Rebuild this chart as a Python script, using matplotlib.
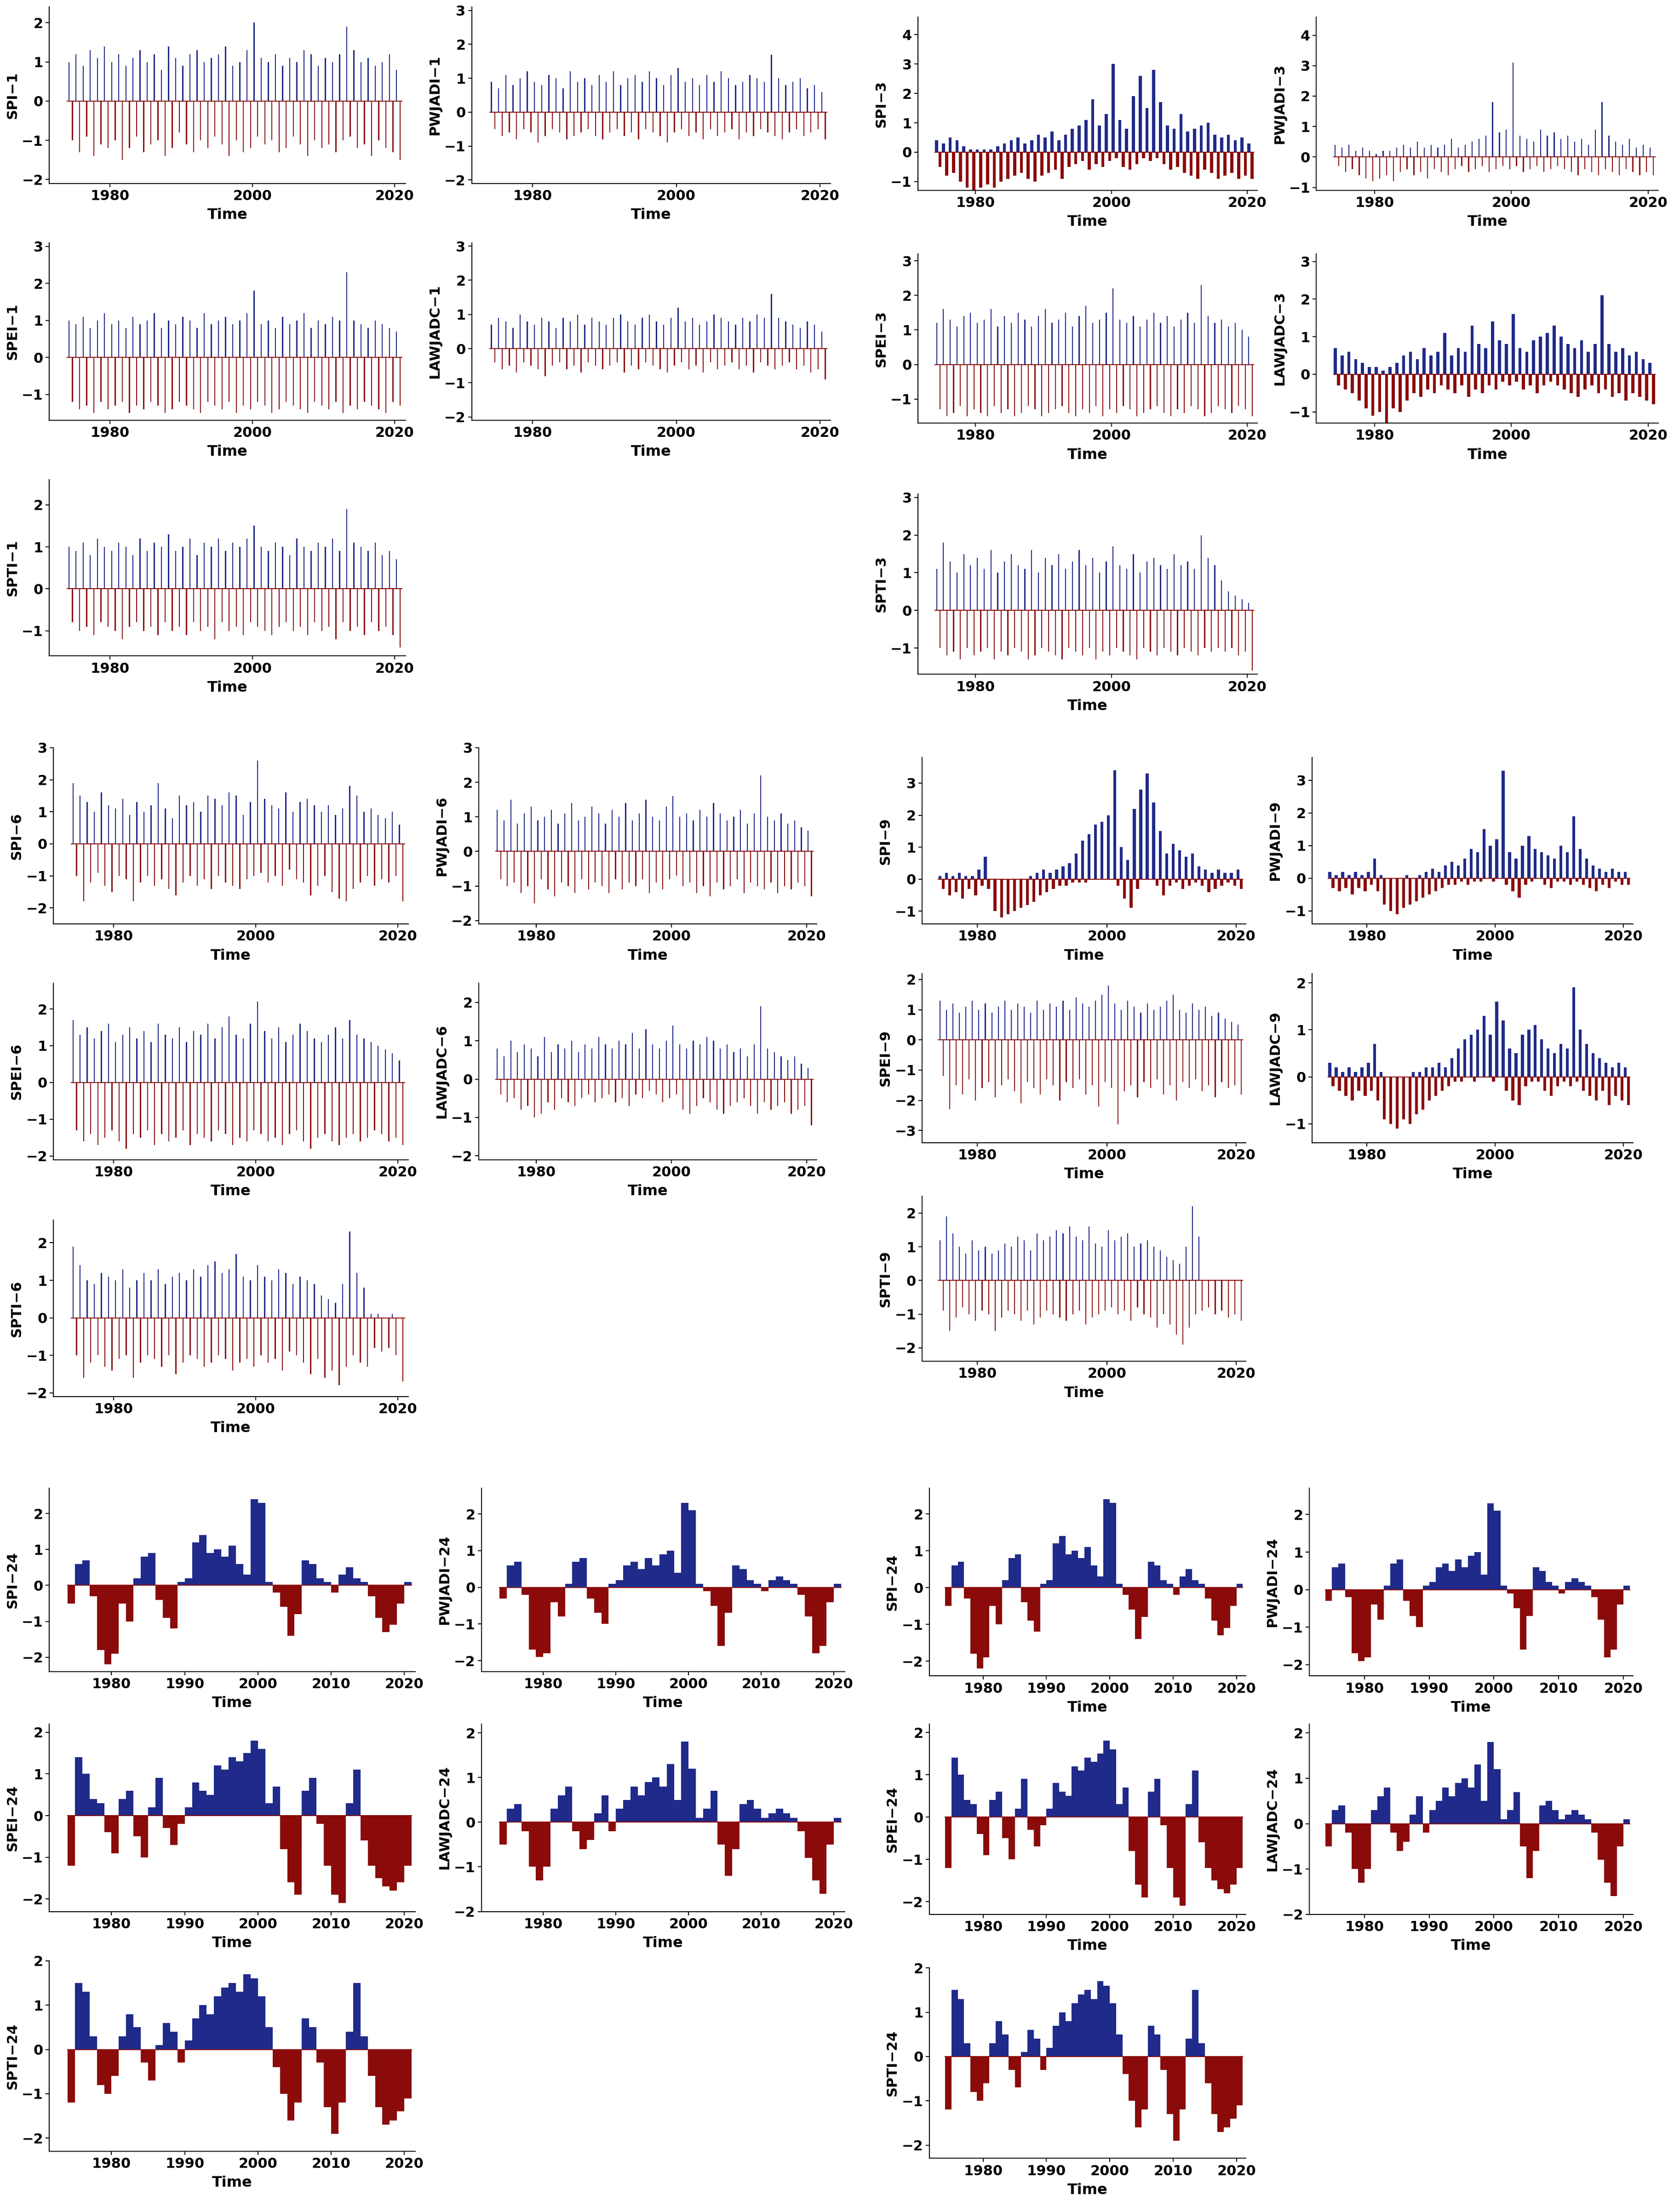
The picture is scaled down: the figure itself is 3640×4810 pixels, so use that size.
import numpy as np
import matplotlib.pyplot as plt
from matplotlib.ticker import MultipleLocator

# yearly high / low values of the short-scale indices, 1974..2020
spi1_hi = [1.0,1.2,0.9,1.3,1.1,1.4,1.0,1.2,0.9,1.1,1.3,1.0,1.2,0.8,1.4,1.1,0.9,1.2,1.3,1.0,1.1,1.2,1.4,0.9,1.0,1.3,2.0,1.1,1.0,1.2,0.9,1.1,1.0,1.3,1.2,0.9,1.1,1.0,1.2,1.9,1.3,1.0,1.1,0.9,1.0,1.2,0.8]
spi1_lo = [-1.0,-1.3,-0.9,-1.4,-1.1,-1.2,-1.0,-1.5,-1.2,-0.9,-1.3,-1.1,-1.0,-1.4,-1.2,-0.8,-1.1,-1.3,-1.0,-1.2,-0.9,-1.1,-1.4,-1.0,-1.3,-1.2,-0.9,-1.1,-1.0,-1.3,-1.2,-0.9,-1.1,-1.4,-1.0,-1.2,-1.1,-1.3,-1.0,-0.9,-1.2,-1.1,-1.4,-1.0,-1.2,-1.3,-1.5]
pwj1_hi = [0.9,0.7,1.1,0.8,1.0,1.2,0.9,0.8,1.1,1.0,0.7,1.2,0.9,1.0,0.8,1.1,0.9,1.2,0.8,1.0,1.1,0.9,1.2,1.0,0.8,1.1,1.3,0.9,1.0,0.8,1.1,0.9,1.2,1.0,0.8,0.9,1.1,1.0,0.9,1.7,1.0,0.8,0.9,1.0,0.7,0.8,0.6]
pwj1_lo = [-0.5,-0.7,-0.6,-0.8,-0.5,-0.6,-0.9,-0.7,-0.5,-0.6,-0.8,-0.7,-0.6,-0.5,-0.7,-0.8,-0.6,-0.5,-0.7,-0.6,-0.8,-0.5,-0.6,-0.7,-0.9,-0.6,-0.5,-0.7,-0.6,-0.8,-0.5,-0.7,-0.6,-0.5,-0.8,-0.6,-0.7,-0.5,-0.6,-0.7,-0.8,-0.6,-0.5,-0.7,-0.6,-0.5,-0.8]
spei1_hi = [1.0,0.9,1.1,0.8,1.0,1.2,0.9,1.0,0.8,1.1,0.9,1.0,1.2,0.8,1.0,0.9,1.1,1.0,0.8,1.2,0.9,1.0,1.1,0.9,1.0,1.2,1.8,0.9,1.0,0.8,1.1,0.9,1.0,1.2,0.8,1.0,0.9,1.1,1.0,2.3,1.0,0.9,0.8,1.0,0.9,0.8,0.7]
spei1_lo = [-1.2,-1.4,-1.3,-1.5,-1.2,-1.4,-1.3,-1.2,-1.5,-1.3,-1.4,-1.2,-1.3,-1.5,-1.4,-1.2,-1.3,-1.4,-1.5,-1.2,-1.3,-1.4,-1.2,-1.5,-1.3,-1.4,-1.2,-1.3,-1.5,-1.4,-1.2,-1.3,-1.4,-1.5,-1.2,-1.3,-1.4,-1.2,-1.5,-1.3,-1.4,-1.2,-1.3,-1.4,-1.5,-1.2,-1.3]
law1_hi = [0.7,0.9,0.8,0.6,1.0,0.8,0.7,0.9,0.8,0.6,0.9,0.8,1.0,0.7,0.9,0.8,0.7,0.9,1.0,0.8,0.7,0.9,1.0,0.8,0.7,0.9,1.2,0.8,0.9,0.7,0.8,1.0,0.9,0.8,0.7,0.9,0.8,1.0,0.9,1.6,0.9,0.8,0.7,0.6,0.8,0.7,0.5]
law1_lo = [-0.4,-0.6,-0.5,-0.7,-0.4,-0.5,-0.6,-0.8,-0.5,-0.4,-0.6,-0.5,-0.7,-0.4,-0.5,-0.6,-0.5,-0.4,-0.7,-0.5,-0.6,-0.4,-0.5,-0.6,-0.7,-0.5,-0.4,-0.6,-0.5,-0.7,-0.4,-0.6,-0.5,-0.4,-0.6,-0.5,-0.7,-0.4,-0.5,-0.6,-0.5,-0.4,-0.6,-0.5,-0.7,-0.6,-0.9]
spti1_hi = [1.0,0.9,1.1,0.8,1.2,1.0,0.9,1.1,1.0,0.8,1.2,0.9,1.1,1.0,1.3,0.9,1.0,1.2,0.8,1.1,1.0,1.2,0.9,1.1,1.0,1.2,1.5,1.0,0.9,1.1,1.0,0.8,1.2,1.0,0.9,1.1,1.0,1.2,0.9,1.9,1.1,1.0,0.9,1.1,0.8,0.9,0.7]
spti1_lo = [-0.8,-1.0,-0.9,-1.1,-0.8,-0.9,-1.0,-1.2,-0.9,-0.8,-1.0,-0.9,-1.1,-0.8,-1.0,-0.9,-1.1,-0.8,-1.0,-0.9,-1.2,-0.8,-1.0,-0.9,-1.1,-0.8,-0.9,-1.0,-1.1,-0.9,-0.8,-1.0,-0.9,-1.1,-0.8,-1.0,-0.9,-1.2,-0.8,-1.0,-0.9,-1.1,-0.8,-1.0,-0.9,-1.1,-1.4]

spi3_hi = [0.4,0.3,0.5,0.4,0.2,0.1,0.1,0.1,0.1,0.2,0.3,0.4,0.5,0.3,0.4,0.6,0.5,0.7,0.4,0.6,0.8,0.9,1.1,1.8,0.9,1.3,3.0,1.1,0.8,1.9,2.6,1.5,2.8,1.7,0.9,0.8,1.3,0.7,0.8,0.9,1.0,0.6,0.5,0.6,0.4,0.5,0.3]
spi3_lo = [-0.5,-0.8,-0.7,-1.0,-1.2,-1.3,-1.2,-1.1,-1.2,-1.0,-0.9,-0.8,-0.7,-0.9,-1.0,-0.8,-0.7,-0.6,-0.9,-0.5,-0.4,-0.3,-0.6,-0.4,-0.5,-0.3,-0.2,-0.5,-0.6,-0.4,-0.2,-0.3,-0.2,-0.4,-0.6,-0.5,-0.7,-0.8,-0.9,-0.6,-0.7,-0.9,-0.8,-0.7,-0.9,-0.8,-0.9]
pwj3_hi = [0.4,0.3,0.4,0.2,0.3,0.2,0.1,0.2,0.2,0.3,0.4,0.3,0.5,0.3,0.4,0.3,0.4,0.6,0.3,0.4,0.5,0.6,0.7,1.8,0.8,0.9,3.1,0.7,0.6,0.5,0.9,0.7,0.8,0.6,0.7,0.5,0.6,0.4,0.9,1.8,0.7,0.5,0.4,0.6,0.3,0.4,0.3]
pwj3_lo = [-0.3,-0.5,-0.4,-0.6,-0.7,-0.8,-0.7,-0.6,-0.8,-0.5,-0.4,-0.6,-0.5,-0.7,-0.4,-0.5,-0.6,-0.4,-0.3,-0.5,-0.4,-0.3,-0.5,-0.4,-0.3,-0.4,-0.3,-0.5,-0.4,-0.3,-0.5,-0.4,-0.3,-0.4,-0.5,-0.6,-0.4,-0.5,-0.6,-0.4,-0.5,-0.6,-0.4,-0.5,-0.6,-0.5,-0.6]
spei3_hi = [1.2,1.6,1.3,1.1,1.4,1.5,1.2,1.3,1.6,1.1,1.4,1.2,1.5,1.3,1.1,1.4,1.6,1.2,1.3,1.5,1.1,1.4,1.7,1.2,1.3,1.5,2.2,1.3,1.2,1.4,1.1,1.3,1.5,1.2,1.4,1.1,1.3,1.5,1.2,2.3,1.4,1.2,1.3,1.1,1.2,1.0,0.8]
spei3_lo = [-1.3,-1.5,-1.4,-1.2,-1.5,-1.3,-1.4,-1.5,-1.2,-1.4,-1.3,-1.5,-1.4,-1.2,-1.3,-1.5,-1.4,-1.3,-1.2,-1.4,-1.5,-1.3,-1.4,-1.2,-1.5,-1.3,-1.4,-1.2,-1.3,-1.5,-1.4,-1.3,-1.2,-1.4,-1.5,-1.3,-1.4,-1.2,-1.3,-1.5,-1.4,-1.2,-1.3,-1.4,-1.2,-1.3,-1.5]
law3_hi = [0.7,0.5,0.6,0.4,0.3,0.2,0.2,0.1,0.2,0.3,0.5,0.6,0.4,0.7,0.5,0.6,1.1,0.5,0.7,0.6,1.3,0.8,0.7,1.4,0.9,0.8,1.6,0.7,0.6,0.9,1.0,1.1,1.3,1.0,0.8,0.7,0.9,0.6,0.8,2.1,0.8,0.6,0.7,0.5,0.6,0.4,0.3]
law3_lo = [-0.3,-0.4,-0.5,-0.7,-0.9,-1.1,-1.0,-1.3,-0.9,-1.0,-0.7,-0.5,-0.6,-0.4,-0.5,-0.3,-0.4,-0.5,-0.3,-0.6,-0.4,-0.5,-0.3,-0.4,-0.2,-0.3,-0.2,-0.4,-0.3,-0.5,-0.3,-0.2,-0.3,-0.4,-0.5,-0.6,-0.4,-0.3,-0.5,-0.4,-0.6,-0.5,-0.7,-0.5,-0.6,-0.7,-0.8]
spti3_hi = [1.1,1.8,1.3,1.0,1.5,1.2,1.4,1.1,1.6,1.0,1.3,1.5,1.2,1.1,1.6,1.0,1.4,1.2,1.5,1.1,1.3,1.6,1.2,1.4,1.0,1.3,1.7,1.2,1.1,1.5,1.0,1.3,1.4,1.2,1.1,1.5,1.2,1.3,1.1,2.0,1.4,1.2,0.8,0.5,0.4,0.3,0.2]
spti3_lo = [-1.0,-1.2,-1.1,-1.3,-1.0,-1.2,-1.1,-1.0,-1.3,-1.1,-1.2,-1.0,-1.1,-1.3,-1.2,-1.0,-1.1,-1.2,-1.3,-1.0,-1.1,-1.2,-1.0,-1.3,-1.1,-1.2,-1.0,-1.1,-1.2,-1.3,-1.0,-1.1,-1.2,-1.0,-1.1,-1.2,-1.0,-1.1,-1.2,-1.0,-1.1,-1.0,-1.1,-1.0,-1.2,-1.1,-1.6]

spi6_hi = [1.9,1.5,1.3,1.0,1.6,1.2,1.1,1.4,0.9,1.3,1.0,1.2,1.9,1.1,0.8,1.5,1.2,1.3,1.0,1.5,1.4,1.2,1.6,1.5,0.9,1.3,2.6,1.4,1.2,1.1,1.6,1.0,1.3,1.4,1.2,1.0,1.2,0.9,1.1,1.8,1.5,1.0,1.1,0.9,0.8,1.0,0.6]
spi6_lo = [-1.0,-1.8,-1.2,-0.9,-1.3,-1.5,-1.0,-1.1,-1.8,-1.2,-1.0,-1.3,-1.1,-1.4,-1.6,-1.2,-1.0,-1.3,-1.1,-1.4,-1.0,-1.2,-1.3,-1.4,-1.1,-1.0,-0.9,-1.2,-1.0,-1.3,-0.8,-1.1,-1.2,-1.6,-1.3,-1.0,-1.5,-1.7,-1.8,-1.4,-1.2,-1.0,-1.3,-1.1,-1.2,-1.0,-1.8]
pwj6_hi = [1.2,0.9,1.5,0.8,1.1,1.3,0.9,1.0,1.2,0.8,1.1,1.4,0.9,1.0,1.3,1.1,0.8,1.2,1.0,1.4,0.9,1.1,1.5,1.0,0.9,1.3,1.6,1.0,1.1,0.9,1.2,1.0,1.4,1.1,0.9,1.0,1.2,0.8,1.1,2.2,1.0,0.9,1.1,0.8,0.9,0.7,0.6]
pwj6_lo = [-0.8,-1.0,-0.9,-1.2,-1.0,-1.5,-0.8,-1.1,-1.3,-0.9,-1.0,-1.2,-0.8,-1.1,-0.9,-1.0,-1.2,-0.8,-1.1,-0.9,-1.0,-0.8,-1.2,-0.9,-1.1,-0.8,-0.7,-1.0,-0.9,-1.2,-1.0,-1.3,-0.9,-1.1,-1.0,-0.8,-1.2,-0.9,-1.0,-1.1,-0.9,-1.2,-1.0,-1.1,-0.9,-1.0,-1.3]
spei6_hi = [1.7,1.3,1.5,1.2,1.4,1.6,1.1,1.3,1.5,1.2,1.4,1.1,1.6,1.3,1.2,1.5,1.1,1.4,1.3,1.6,1.2,1.5,1.8,1.3,1.2,1.6,2.2,1.4,1.2,1.5,1.1,1.3,1.6,1.4,1.2,1.1,1.3,1.5,1.2,1.7,1.3,1.2,1.1,1.0,0.9,0.8,0.6]
spei6_lo = [-1.3,-1.6,-1.4,-1.7,-1.5,-1.3,-1.6,-1.8,-1.4,-1.5,-1.3,-1.7,-1.4,-1.6,-1.5,-1.3,-1.7,-1.4,-1.5,-1.6,-1.3,-1.4,-1.7,-1.5,-1.6,-1.3,-1.4,-1.6,-1.5,-1.7,-1.4,-1.3,-1.6,-1.8,-1.5,-1.4,-1.6,-1.7,-1.5,-1.4,-1.6,-1.5,-1.3,-1.4,-1.6,-1.5,-1.7]
law6_hi = [0.8,0.6,1.0,0.7,0.9,0.8,0.6,1.1,0.7,0.9,0.8,1.0,0.7,0.9,0.8,1.1,0.9,0.8,1.0,0.9,1.2,0.8,1.3,0.9,0.8,1.0,1.4,0.9,0.8,1.0,0.9,1.1,1.0,0.8,0.9,0.7,0.8,0.6,0.9,1.9,0.8,0.7,0.6,0.5,0.6,0.4,0.3]
law6_lo = [-0.4,-0.6,-0.5,-0.8,-0.7,-1.0,-0.9,-0.6,-0.8,-0.5,-0.6,-0.7,-0.5,-0.4,-0.6,-0.5,-0.4,-0.6,-0.5,-0.7,-0.4,-0.5,-0.3,-0.4,-0.6,-0.5,-0.4,-0.8,-0.9,-0.7,-0.5,-0.6,-0.8,-0.9,-0.7,-0.6,-0.5,-0.7,-0.9,-0.6,-0.8,-0.7,-0.6,-0.9,-0.8,-0.7,-1.2]
spti6_hi = [1.9,1.4,1.0,0.9,1.2,1.1,1.0,1.3,0.8,1.0,1.2,1.0,1.3,0.9,1.1,1.2,1.0,1.3,1.1,1.4,1.5,1.2,1.3,1.7,1.1,1.0,1.4,1.1,1.0,1.3,1.2,0.9,1.1,1.0,0.9,0.6,0.5,0.4,0.9,2.3,1.2,0.8,0.1,0.1,0.0,0.1,0.0]
spti6_lo = [-1.0,-1.6,-1.2,-1.0,-1.3,-1.4,-1.1,-1.0,-1.6,-1.2,-1.0,-1.1,-1.3,-1.0,-1.5,-1.2,-1.0,-1.1,-1.3,-1.2,-1.0,-1.1,-1.4,-1.2,-1.1,-1.3,-1.0,-1.2,-1.1,-1.4,-0.9,-1.0,-1.2,-1.5,-1.1,-1.6,-1.4,-1.8,-1.3,-1.0,-1.2,-1.3,-0.8,-0.9,-0.8,-1.0,-1.7]

spi9_hi = [0.1,0.2,0.1,0.2,0.1,0.1,0.3,0.7,0.0,0.0,0.0,0.0,0.0,0.0,0.1,0.2,0.3,0.2,0.3,0.4,0.5,0.8,1.2,1.4,1.7,1.8,2.0,3.4,1.0,0.6,2.2,2.8,3.3,2.4,1.5,0.8,1.1,0.9,0.7,0.8,0.4,0.3,0.2,0.3,0.2,0.2,0.3]
spi9_lo = [-0.3,-0.5,-0.4,-0.6,-0.3,-0.5,-0.2,-0.3,-1.0,-1.2,-1.1,-1.0,-0.9,-0.8,-0.7,-0.5,-0.4,-0.3,-0.2,-0.2,-0.1,-0.1,-0.1,0.0,0.0,0.0,0.0,-0.2,-0.6,-0.9,-0.3,0.0,0.0,-0.2,-0.5,-0.2,-0.1,-0.3,-0.2,-0.1,-0.2,-0.4,-0.3,-0.2,-0.1,-0.2,-0.3]
pwj9_hi = [0.2,0.1,0.2,0.1,0.2,0.1,0.2,0.6,0.1,0.0,0.0,0.0,0.1,0.0,0.1,0.2,0.3,0.2,0.4,0.5,0.4,0.6,0.9,0.8,1.5,1.0,1.2,3.3,0.8,0.6,1.0,1.3,0.9,0.8,0.7,0.6,1.0,0.8,1.9,0.9,0.6,0.4,0.3,0.2,0.3,0.2,0.2]
pwj9_lo = [-0.3,-0.4,-0.3,-0.5,-0.3,-0.4,-0.2,-0.4,-0.8,-1.0,-1.1,-0.9,-0.8,-0.7,-0.6,-0.5,-0.4,-0.3,-0.2,-0.2,-0.1,-0.2,-0.1,-0.1,0.0,-0.1,0.0,-0.2,-0.4,-0.6,-0.2,-0.1,0.0,-0.2,-0.3,-0.1,-0.1,-0.2,-0.1,-0.2,-0.3,-0.4,-0.2,-0.3,-0.1,-0.2,-0.2]
spei9_hi = [1.3,1.0,1.2,0.9,1.1,1.3,1.0,1.2,0.9,1.1,1.3,1.0,1.2,1.1,0.9,1.3,1.0,1.2,1.1,1.3,1.0,1.4,1.2,1.1,1.3,1.5,1.8,1.2,1.0,1.3,1.1,0.9,1.2,1.0,1.1,1.3,1.5,1.0,0.9,1.2,1.0,1.1,0.8,0.9,0.7,0.6,0.5]
spei9_lo = [-1.2,-2.3,-1.5,-1.8,-1.3,-2.0,-1.6,-1.4,-1.9,-1.5,-1.3,-1.7,-2.1,-1.4,-1.6,-1.8,-1.3,-1.5,-2.0,-1.4,-1.6,-1.3,-1.8,-1.5,-2.2,-1.4,-1.6,-2.8,-1.7,-1.5,-1.9,-1.4,-1.6,-1.3,-1.8,-1.5,-2.0,-1.4,-1.6,-1.3,-1.7,-1.5,-1.9,-1.4,-1.6,-1.5,-1.8]
law9_hi = [0.3,0.2,0.1,0.2,0.1,0.2,0.3,0.7,0.1,0.0,0.0,0.0,0.0,0.1,0.1,0.2,0.2,0.3,0.2,0.4,0.6,0.8,0.9,1.0,1.3,0.9,1.6,1.2,0.6,0.5,0.9,1.0,1.1,0.8,0.6,0.5,0.7,0.6,1.9,1.0,0.7,0.5,0.4,0.3,0.2,0.3,0.2]
law9_lo = [-0.2,-0.3,-0.4,-0.5,-0.3,-0.4,-0.3,-0.5,-0.9,-1.0,-1.1,-0.9,-1.0,-0.8,-0.7,-0.5,-0.4,-0.3,-0.2,-0.1,-0.1,0.0,-0.1,0.0,0.0,-0.1,0.0,-0.3,-0.5,-0.6,-0.2,-0.1,-0.1,-0.3,-0.4,-0.2,-0.1,-0.2,-0.1,-0.3,-0.4,-0.5,-0.3,-0.6,-0.4,-0.5,-0.6]
spti9_hi = [1.2,1.9,1.4,1.0,0.8,1.2,0.9,1.0,0.8,0.9,1.1,1.0,1.3,1.2,0.9,1.4,1.2,1.3,1.5,1.4,1.6,1.3,1.2,1.6,1.1,1.0,1.5,1.2,1.3,1.4,1.0,1.1,1.2,1.0,0.9,0.7,0.6,0.5,1.0,2.2,1.3,0.0,0.0,0.0,0.0,0.0,0.0]
spti9_lo = [-0.9,-1.5,-1.1,-0.8,-1.0,-1.2,-0.9,-1.0,-1.5,-1.1,-0.9,-1.0,-1.2,-0.9,-1.3,-1.1,-0.9,-1.0,-1.1,-1.2,-1.0,-0.9,-1.3,-1.1,-1.0,-0.9,-0.8,-1.0,-0.9,-1.2,-0.8,-1.0,-1.1,-1.4,-1.0,-1.3,-1.6,-1.9,-1.4,-1.0,-0.9,-0.8,-1.0,-0.9,-1.1,-1.0,-1.2]

# yearly values of the 24-month indices, 1974..2020
spi24 = [-0.5,0.6,0.7,-0.3,-1.8,-2.2,-1.9,-0.5,-1.0,0.2,0.8,0.9,-0.4,-0.9,-1.2,0.1,0.2,1.2,1.4,0.9,1.0,0.8,1.1,0.6,0.3,2.4,2.3,0.1,-0.2,-0.6,-1.4,-0.8,0.7,0.6,0.2,0.1,-0.2,0.3,0.5,0.2,0.1,-0.3,-0.9,-1.3,-1.1,-0.5,0.1]
pwj24 = [-0.3,0.6,0.7,-0.2,-1.7,-1.9,-1.8,-0.4,-0.8,0.1,0.7,0.8,-0.3,-0.7,-1.0,0.1,0.2,0.6,0.7,0.5,0.8,0.6,0.9,1.0,0.4,2.3,2.1,0.1,-0.1,-0.5,-1.6,-0.7,0.6,0.5,0.2,0.1,-0.1,0.2,0.3,0.2,0.1,-0.2,-0.8,-1.8,-1.6,-0.4,0.1]
spei24 = [-1.2,1.4,1.0,0.4,0.3,-0.4,-0.9,0.4,0.6,-0.5,-1.0,0.2,0.9,-0.3,-0.7,-0.2,0.2,0.8,0.6,0.5,1.2,1.1,1.4,1.3,1.5,1.8,1.6,0.3,0.7,-0.8,-1.6,-1.9,0.6,0.9,-0.2,-1.2,-1.9,-2.1,0.3,1.1,-0.6,-1.2,-1.5,-1.7,-1.8,-1.6,-1.2]
law24 = [-0.5,0.3,0.4,-0.2,-1.0,-1.3,-1.0,0.3,0.6,0.8,-0.2,-0.6,-0.4,0.2,0.6,-0.2,0.3,0.5,0.8,0.6,0.9,1.0,0.8,1.3,0.5,1.8,1.2,0.1,0.3,0.7,-0.5,-1.2,-0.6,0.4,0.5,0.3,0.1,0.2,0.3,0.2,0.1,-0.2,-0.8,-1.3,-1.6,-0.5,0.1]
spti24 = [-1.2,1.5,1.3,0.3,-0.8,-1.0,-0.6,0.3,0.8,0.5,-0.3,-0.7,0.1,0.6,0.4,-0.3,0.2,0.7,1.0,0.8,1.2,1.4,1.5,1.3,1.7,1.6,1.2,0.5,-0.4,-1.0,-1.6,-1.2,0.7,0.5,-0.3,-1.3,-1.9,-1.2,0.4,1.5,0.3,-0.6,-1.3,-1.7,-1.6,-1.4,-1.1]

BLUE = '#1f2a8a'
RED = '#8b0a0a'
W, H = 1189.0, 1568.0

fig = plt.figure(figsize=(36.4, 48.1), dpi=100)


def make_ax(x0, x1, y0, y1):
    return fig.add_axes([x0 / W, 1 - y1 / H, (x1 - x0) / W, (y1 - y0) / H])


def style(ax, label, ylim, xticks):
    ax.set_ylim(*ylim)
    ax.set_xlim(1971.5, 2021.5)
    ax.set_xticks(xticks)
    ax.yaxis.set_major_locator(MultipleLocator(1))
    for s in ['top', 'right']:
        ax.spines[s].set_visible(False)
    for s in ['left', 'bottom']:
        ax.spines[s].set_linewidth(1.5)
    ax.tick_params(labelsize=22, width=1.5, length=6)
    for t in ax.get_xticklabels() + ax.get_yticklabels():
        t.set_fontweight('bold')
    ax.set_ylabel(label, fontsize=22, fontweight='bold', labelpad=4)
    ax.set_xlabel('Time', fontsize=23, fontweight='bold', labelpad=8)
    ax.axhline(0, xmin=(1974 - 1971.5) / 50, xmax=(2021 - 1971.5) / 50, color=RED, lw=1.5)


def short_panel(rect, label, hi, lo, ylim, wide=False):
    ax = make_ax(*rect)
    w = 0.45 if wide else 0.15
    yrs = 1974 + np.arange(len(hi))
    ax.bar(yrs + 0.25, np.clip(hi, 0, None), width=w, color=BLUE, linewidth=0)
    ax.bar(yrs + 0.75, np.clip(lo, None, 0), width=w, color=RED, linewidth=0)
    style(ax, label, ylim, [1980, 2000, 2020])


def long_panel(rect, label, vals, ylim):
    ax = make_ax(*rect)
    vals = np.array(vals)
    yrs = 1974 + np.arange(len(vals)) + 0.5
    cols = [BLUE if v >= 0 else RED for v in vals]
    ax.bar(yrs, vals, width=1.0, color=cols, linewidth=0)
    style(ax, label, ylim, [1980, 1990, 2000, 2010, 2020])


# group 1: scale 1 and 3
short_panel((35, 288, 5, 130), 'SPI−1', spi1_hi, spi1_lo, (-2.1, 2.4))
short_panel((335, 590, 5, 130), 'PWJADI−1', pwj1_hi, pwj1_lo, (-2.1, 3.1))
short_panel((35, 288, 172, 298), 'SPEI−1', spei1_hi, spei1_lo, (-1.7, 3.1))
short_panel((335, 590, 172, 298), 'LAWJADC−1', law1_hi, law1_lo, (-2.1, 3.1))
short_panel((35, 288, 340, 465), 'SPTI−1', spti1_hi, spti1_lo, (-1.6, 2.6))
short_panel((652, 893, 12, 135), 'SPI−3', spi3_hi, spi3_lo, (-1.3, 4.6), wide=True)
short_panel((935, 1178, 12, 135), 'PWJADI−3', pwj3_hi, pwj3_lo, (-1.1, 4.6))
short_panel((652, 893, 180, 300), 'SPEI−3', spei3_hi, spei3_lo, (-1.7, 3.2))
short_panel((935, 1178, 180, 300), 'LAWJADC−3', law3_hi, law3_lo, (-1.3, 3.2), wide=True)
short_panel((652, 893, 350, 478), 'SPTI−3', spti3_hi, spti3_lo, (-1.7, 3.1))

# group 2: scale 6 and 9
short_panel((38, 290, 530, 655), 'SPI−6', spi6_hi, spi6_lo, (-2.5, 3.0))
short_panel((340, 580, 530, 655), 'PWJADI−6', pwj6_hi, pwj6_lo, (-2.1, 3.0))
short_panel((38, 290, 697, 822), 'SPEI−6', spei6_hi, spei6_lo, (-2.1, 2.7))
short_panel((340, 580, 697, 822), 'LAWJADC−6', law6_hi, law6_lo, (-2.1, 2.5))
short_panel((38, 290, 865, 990), 'SPTI−6', spti6_hi, spti6_lo, (-2.1, 2.6))
short_panel((655, 885, 537, 655), 'SPI−9', spi9_hi, spi9_lo, (-1.4, 3.8), wide=True)
short_panel((932, 1160, 537, 655), 'PWJADI−9', pwj9_hi, pwj9_lo, (-1.4, 3.7), wide=True)
short_panel((655, 885, 690, 810), 'SPEI−9', spei9_hi, spei9_lo, (-3.4, 2.2))
short_panel((932, 1160, 690, 810), 'LAWJADC−9', law9_hi, law9_lo, (-1.4, 2.2), wide=True)
short_panel((655, 885, 848, 965), 'SPTI−9', spti9_hi, spti9_lo, (-2.4, 2.5))

# group 3: scale 24 (shown twice)
long_panel((35, 295, 1055, 1185), 'SPI−24', spi24, (-2.4, 2.7))
long_panel((342, 600, 1055, 1185), 'PWJADI−24', pwj24, (-2.3, 2.7))
long_panel((35, 295, 1222, 1355), 'SPEI−24', spei24, (-2.3, 2.2))
long_panel((342, 600, 1222, 1355), 'LAWJADC−24', law24, (-2.0, 2.2))
long_panel((35, 295, 1390, 1525), 'SPTI−24', spti24, (-2.3, 2.0))
long_panel((660, 885, 1055, 1188), 'SPI−24', spi24, (-2.4, 2.7))
long_panel((930, 1160, 1055, 1188), 'PWJADI−24', pwj24, (-2.3, 2.7))
long_panel((660, 885, 1222, 1357), 'SPEI−24', spei24, (-2.3, 2.2))
long_panel((930, 1160, 1222, 1357), 'LAWJADC−24', law24, (-2.0, 2.2))
long_panel((660, 885, 1395, 1530), 'SPTI−24', spti24, (-2.3, 2.0))

fig.savefig('out.png', dpi=100, facecolor='white')
